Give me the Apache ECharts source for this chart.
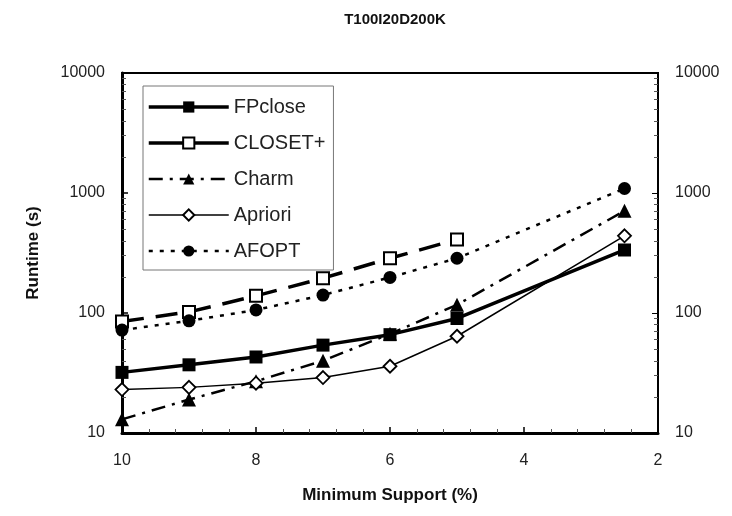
<!DOCTYPE html>
<html>
<head>
    <meta charset="utf-8">
    <title>T100I20D200K</title>
    <script src="https://cdn.jsdelivr.net/npm/echarts@6/dist/echarts.min.js"></script>
</head>
<body style="margin:0">
<div id="main" style="width: 732px;height:516px;"></div>
<script type="text/javascript">
    var myChart = echarts.init(document.getElementById('main'));

    // minimum support (%) and runtime (s) per algorithm
    var support = [10, 9, 8, 7, 6, 5, 2.5];
    var fpclose = [32, 37, 43, 54, 66, 90, 335];
    var closet = [85, 102, 139, 195, 286, 410];
    var charm = [13, 19, 27, 40, 67, 117, 710];
    var apriori = [23, 24, 26, 29, 36, 64, 440];
    var afopt = [72, 86, 106, 141, 198, 286, 1090];

    function pairs(vals) {
        return vals.map(function (v, i) {
            return [support[i], v];
        });
    }

    var font = 'Liberation Sans';

    var yAxisBase = {
        type: 'log',
        logBase: 10,
        min: 10,
        max: 10000,
        axisLine: {show: true, lineStyle: {color: '#000', width: 3}},
        axisTick: {show: true, inside: true, length: 6, lineStyle: {color: '#000', width: 1.5}},
        minorTick: {show: true, splitNumber: 9, length: 4, lineStyle: {color: '#555'}},
        splitLine: {show: false},
        axisLabel: {
            color: '#222', fontSize: 16, fontFamily: font, margin: 17,
            formatter: function (v) { return String(Math.round(v)); }
        }
    };

    option = {
        backgroundColor: '#fff',
        animation: false,
        title: {
            text: 'T100I20D200K',
            left: 390,
            top: 7,
            textAlign: 'center',
            textStyle: {fontFamily: font, fontSize: 15, fontWeight: 'bold', color: '#111'}
        },
        grid: {
            left: 122,
            right: 74,
            top: 73,
            bottom: 83,
            show: true,
            borderColor: '#000',
            borderWidth: 2
        },
        legend: {
            orient: 'vertical',
            left: 143,
            top: 86,
            padding: [10, 8, 8, 4],
            itemWidth: 80,
            itemHeight: 14,
            itemGap: 14,
            borderColor: '#777',
            borderWidth: 1,
            backgroundColor: '#fff',
            textStyle: {fontFamily: font, fontSize: 20, color: '#222', lineHeight: 22},
            data: [
                {name: 'FPclose', lineStyle: {width: 3.5}},
                {name: 'CLOSET+', lineStyle: {type: 'solid', width: 3.5}},
                {name: 'Charm', lineStyle: {width: 2.5}},
                {name: 'Apriori', lineStyle: {width: 1.5}},
                {name: 'AFOPT', lineStyle: {width: 2.5}}
            ]
        },
        xAxis: {
            type: 'value',
            inverse: true,
            min: 2,
            max: 10,
            interval: 2,
            name: 'Minimum Support (%)',
            nameLocation: 'middle',
            nameGap: 54,
            nameTextStyle: {fontFamily: font, fontSize: 17, fontWeight: 'bold', color: '#111'},
            axisLine: {show: true, lineStyle: {color: '#000', width: 3}},
            axisTick: {show: true, inside: true, length: 6, lineStyle: {color: '#000', width: 1.5}},
            minorTick: {show: true, splitNumber: 5, length: 4, lineStyle: {color: '#555'}},
            splitLine: {show: false},
            axisLabel: {color: '#222', fontSize: 16, fontFamily: font, margin: 20}
        },
        yAxis: [
            Object.assign({}, yAxisBase, {
                position: 'left',
                name: 'Runtime (s)',
                nameLocation: 'middle',
                nameGap: 80,
                nameTextStyle: {fontFamily: font, fontSize: 17, fontWeight: 'bold', color: '#111'}
            }),
            Object.assign({}, yAxisBase, {
                position: 'right',
                axisTick: {show: true, inside: true, length: 6, lineStyle: {color: '#000', width: 1}},
                axisLine: {show: true, lineStyle: {color: '#000', width: 2}}
            })
        ],
        series: [{
            name: 'FPclose',
            type: 'line',
            symbol: 'rect',
            symbolSize: 13,
            itemStyle: {color: '#000'},
            lineStyle: {color: '#000', width: 3.5},
            data: pairs(fpclose)
        }, {
            name: 'CLOSET+',
            type: 'line',
            symbol: 'rect',
            symbolSize: 12,
            itemStyle: {color: '#fff', borderColor: '#000', borderWidth: 2},
            lineStyle: {color: '#000', width: 3.5, type: [22, 12]},
            data: pairs(closet)
        }, {
            name: 'Charm',
            type: 'line',
            symbol: 'triangle',
            symbolSize: 14,
            itemStyle: {color: '#000'},
            lineStyle: {color: '#000', width: 2.5, type: [14, 7, 3, 7]},
            data: pairs(charm)
        }, {
            name: 'Apriori',
            type: 'line',
            symbol: 'diamond',
            symbolSize: 13,
            itemStyle: {color: '#fff', borderColor: '#000', borderWidth: 1.8},
            lineStyle: {color: '#000', width: 1.5},
            data: pairs(apriori)
        }, {
            name: 'AFOPT',
            type: 'line',
            symbol: 'circle',
            symbolSize: 13,
            itemStyle: {color: '#000'},
            lineStyle: {color: '#000', width: 2.5, type: [4, 7]},
            data: pairs(afopt)
        }]
    };

    myChart.setOption(option);
</script>
</body>
</html>
